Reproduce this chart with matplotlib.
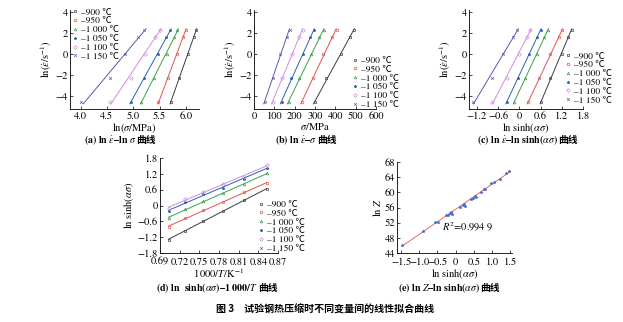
import matplotlib
matplotlib.use('Agg')
import matplotlib.pyplot as plt
from matplotlib.lines import Line2D
import numpy as np

plt.rcParams['font.family'] = ['STIXGeneral', 'Noto Sans CJK SC']
plt.rcParams['mathtext.fontset'] = 'stix'
plt.rcParams['xtick.direction'] = 'in'
plt.rcParams['ytick.direction'] = 'in'
plt.rcParams['axes.unicode_minus'] = True

#%% Data
temps = ['\u2013900 \u2103', '\u2013950 \u2103', '\u20131 000 \u2103',
         '\u20131 050 \u2103', '\u20131 100 \u2103', '\u20131 150 \u2103']
ln_rate = [-4.61, -2.30, 0.0, 1.61, 2.30]

# (a) ln(sigma) for each temperature, rows follow temps
ln_sigma = [[5.71, 5.87, 6.05, 6.15, 6.19],
            [5.48, 5.66, 5.83, 5.94, 6.00],
            [5.15, 5.39, 5.64, 5.78, 5.84],
            [4.95, 5.20, 5.48, 5.63, 5.70],
            [4.56, 4.95, 5.23, 5.41, 5.50],
            [4.01, 4.56, 4.85, 5.10, 5.20]]

# (b) sigma / MPa
sigma = [[301, 353, 430, 470, 491],
         [237, 288, 340, 385, 406],
         [172, 221, 282, 321, 346],
         [137, 181, 240, 277, 297],
         [92, 137, 186, 221, 240],
         [52, 92, 127, 160, 176]]

# (c) ln sinh(alpha sigma)
lnsinh = [[0.62, 0.87, 1.20, 1.37, 1.48],
          [0.26, 0.56, 0.87, 1.12, 1.22],
          [-0.14, 0.16, 0.49, 0.71, 0.81],
          [-0.35, -0.05, 0.28, 0.49, 0.62],
          [-0.76, -0.35, -0.02, 0.21, 0.31],
          [-1.32, -0.78, -0.45, -0.17, -0.07]]

# (d) ln sinh(alpha sigma) vs 1000/T, one row per strain rate
inv_T = [0.703, 0.728, 0.756, 0.786, 0.818, 0.853]
lnsinh_T = [[-1.32, -0.95, -0.57, -0.19, 0.20, 0.61],
            [-0.83, -0.47, -0.18, 0.13, 0.51, 0.84],
            [-0.47, -0.15, 0.16, 0.46, 0.80, 1.22],
            [-0.22, 0.13, 0.42, 0.67, 0.99, 1.44],
            [-0.09, 0.23, 0.51, 0.80, 1.09, 1.53]]

# (e) ln Z vs ln sinh(alpha sigma)
e_x = [-1.47, -0.90, -0.56, -0.47, -0.27, -0.22, -0.16, -0.13, -0.10, 0.11,
       0.20, 0.23, 0.26, 0.43, 0.47, 0.54, 0.56, 0.71, 0.77, 0.80, 0.98,
       1.05, 1.21, 1.39, 1.48]
e_y = [46.1, 49.9, 52.3, 52.2, 53.9, 54.0, 54.5, 54.8, 54.4, 56.1,
       56.6, 56.9, 56.5, 58.3, 58.6, 59.0, 58.8, 60.1, 60.8, 61.0, 62.4,
       62.6, 63.5, 65.0, 65.7]

colors = ['#3c3c3c', '#e5524c', '#3e9e4a', '#2d5fb3', '#cf8fd8', '#5f55b0']
markers = ['s', 'o', '^', '*', 'D', 'x']
MS = 1.9

W, H = 623, 322
fig = plt.figure(figsize=(W / 100, H / 100), dpi=100)


def add_ax(l, t, r, b, xpad=1.5):
    ax = fig.add_axes([l / W, 1 - b / H, (r - l) / W, (b - t) / H])
    ax.spines['top'].set_visible(False)
    ax.spines['right'].set_visible(False)
    for s in ax.spines.values():
        s.set_linewidth(0.6)
    ax.tick_params(labelsize=7.5, length=2.5, width=0.5, pad=1.5)
    ax.tick_params(axis='x', pad=xpad)
    return ax


def mark_style(i):
    mfc = colors[i] if markers[i] in ('*', 'x') else 'none'
    return dict(ls='none', marker=markers[i], ms=MS, mew=0.5,
                color=colors[i], mfc=mfc)


def draw_pts(ax, x, y, i):
    ax.plot(x, y, **mark_style(i))


def legend(ax, loc, anchor):
    handles = [Line2D([], [], **mark_style(i)) for i in range(6)]
    ax.legend(handles, temps, loc=loc, bbox_to_anchor=anchor, frameon=False,
              fontsize=6.8, handlelength=0.7, handletextpad=0.3,
              labelspacing=0.02, borderpad=0, borderaxespad=0)


def fit_x_on_y(ax, xs, y, i):
    p = np.polyfit(y, xs, 1)
    yy = np.array([min(y) - 0.15, max(y) + 0.1])
    ax.plot(np.polyval(p, yy), yy, color=colors[i], lw=0.7)


def fmt(v):
    if abs(v) < 1e-9:
        return '0'
    return '\u2212' + f'{-v:.1f}' if v < 0 else f'{v:.1f}'


ylab = r'$\mathrm{ln}(\dot{\varepsilon}/\mathrm{s}^{-1})$'

#%% (a)
ax = add_ax(70, 10, 199, 109)
for i in range(6):
    fit_x_on_y(ax, ln_sigma[i], ln_rate, i)
    draw_pts(ax, ln_sigma[i], ln_rate, i)
ax.set_xlim(3.8, 6.25)
ax.set_ylim(-5.25, 4.2)
ax.set_xticks(np.arange(4.0, 6.01, 0.5))
ax.set_xticklabels([f'{v:.1f}' for v in np.arange(4.0, 6.01, 0.5)])
ax.set_yticks([-4, -2, 0, 2, 4])
ax.set_xlabel(r'$\mathrm{ln}(\sigma/\mathrm{MPa})$', fontsize=7.5, labelpad=0)
ax.set_ylabel(ylab, fontsize=7.5, labelpad=1)
legend(ax, 'upper left', (0.015, 1.02))

#%% (b)
ax = add_ax(254, 10, 376, 109)
for i in range(6):
    fit_x_on_y(ax, sigma[i], ln_rate, i)
    draw_pts(ax, sigma[i], ln_rate, i)
ax.set_xlim(0, 600)
ax.set_ylim(-5.25, 4.2)
ax.set_xticks(range(0, 601, 100))
ax.set_yticks([-4, -2, 0, 2, 4])
ax.set_xlabel(r'$\sigma/\mathrm{MPa}$', fontsize=7.5, labelpad=0)
ax.set_ylabel(ylab, fontsize=7.5, labelpad=1)
legend(ax, 'lower left', (0.80, 0.0))

#%% (c)
ax = add_ax(469, 10, 583, 109)
for i in range(6):
    fit_x_on_y(ax, lnsinh[i], ln_rate, i)
    draw_pts(ax, lnsinh[i], ln_rate, i)
ax.set_xlim(-1.42, 1.8)
ax.set_ylim(-5.25, 4.2)
cx = [-1.2, -0.6, 0, 0.6, 1.2, 1.8]
ax.set_xticks(cx)
ax.set_xticklabels([fmt(v) for v in cx])
ax.set_yticks([-4, -2, 0, 2, 4])
ax.set_xlabel(r'$\mathrm{ln\ sinh}(\alpha\sigma)$', fontsize=7.5, labelpad=0)
ax.set_ylabel(ylab, fontsize=7.5, labelpad=1)
legend(ax, 'lower left', (0.84, 0.045))

#%% (d)
ax = add_ax(160, 158, 278, 253, xpad=3)
for i in range(5):
    p = np.polyfit(inv_T, lnsinh_T[i], 1)
    xx = np.array([inv_T[0], inv_T[-1]])
    ax.plot(xx, np.polyval(p, xx), color=colors[i], lw=0.7)
    draw_pts(ax, inv_T, lnsinh_T[i], i)
ax.set_xlim(0.69, 0.87)
ax.set_ylim(-1.8, 1.8)
dx = [0.69, 0.72, 0.75, 0.78, 0.81, 0.84, 0.87]
ax.set_xticks(dx)
ax.set_xticklabels([f'{v:.2f}' for v in dx])
dy = [-1.8, -1.2, -0.6, 0, 0.6, 1.2, 1.8]
ax.set_yticks(dy)
ax.set_yticklabels([fmt(v) for v in dy])
ax.set_xlabel(r'$1\,000/T/\mathrm{K}^{-1}$', fontsize=7.5, labelpad=0)
ax.set_ylabel(r'$\mathrm{ln\ sinh}(\alpha\sigma)$', fontsize=7.5, labelpad=1)
legend(ax, 'lower left', (0.83, 0.0))

#%% (e)
ax = add_ax(397, 162, 512, 253, xpad=3)
p = np.polyfit(e_x, e_y, 1)
xx = np.array([-1.47, 1.5])
ax.plot(xx, np.polyval(p, xx), color='#e8544e', lw=0.6)
ax.plot(e_x, e_y, ls='none', marker='*', ms=2.3, color='#4a6cc8', mew=0.4)
ax.set_xlim(-1.61, 1.55)
ax.set_ylim(44, 68)
ex = [-1.5, -1.0, -0.5, 0, 0.5, 1.0, 1.5]
ax.set_xticks(ex)
ax.set_xticklabels([fmt(v) for v in ex])
ax.set_yticks(range(44, 69, 4))
ax.set_xlabel(r'$\mathrm{ln\ sinh}(\alpha\sigma)$', fontsize=7.5, labelpad=0)
ax.set_ylabel(r'$\mathrm{ln}\ Z$', fontsize=7.5, labelpad=1)
ax.text(-0.37, 50.9, r'$R^2$=0.994 9', fontsize=7.5, va='center')

#%% Captions
caps = [(120, 143, r'(a) ln $\dot{\varepsilon}$' + '\u2013' + r'ln $\sigma$'),
        (306, 143, r'(b) ln $\dot{\varepsilon}$' + '\u2013' + r'$\sigma$'),
        (527, 143, r'(c) ln $\dot{\varepsilon}$' + '\u2013' + r'ln sinh($\alpha\sigma$)'),
        (217, 291, r'(d) ln  sinh($\alpha\sigma$)' + '\u2013' + r'1 000/$T$'),
        (449, 291, r'(e) ln $Z$' + '\u2013' + r'ln sinh($\alpha\sigma$)')]
parts = []
for xc, yc, head in caps:
    t1 = fig.text(0, 1 - yc / H, head, fontsize=7.2, fontweight='bold',
                  family='STIXGeneral', va='baseline')
    t2 = fig.text(0, 1 - yc / H, '曲线', fontsize=7.0, fontweight='bold',
                  family='Noto Sans CJK SC', va='baseline')
    parts.append((xc, t1, t2))

fig.text(325 / W, 1 - 310 / H, '图 3　试验钢热压缩时不同变量间的线性拟合曲线',
         fontsize=7.2, fontweight='bold', family='Noto Sans CJK SC',
         ha='center', va='center')

fig.canvas.draw()
r = fig.canvas.get_renderer()
for xc, t1, t2 in parts:
    w1 = t1.get_window_extent(r).width
    w2 = t2.get_window_extent(r).width
    x0 = xc - (w1 + w2) / 2
    t1.set_x(x0 / W)
    t2.set_x((x0 + w1) / W)

fig.savefig('out.png', dpi=100)
